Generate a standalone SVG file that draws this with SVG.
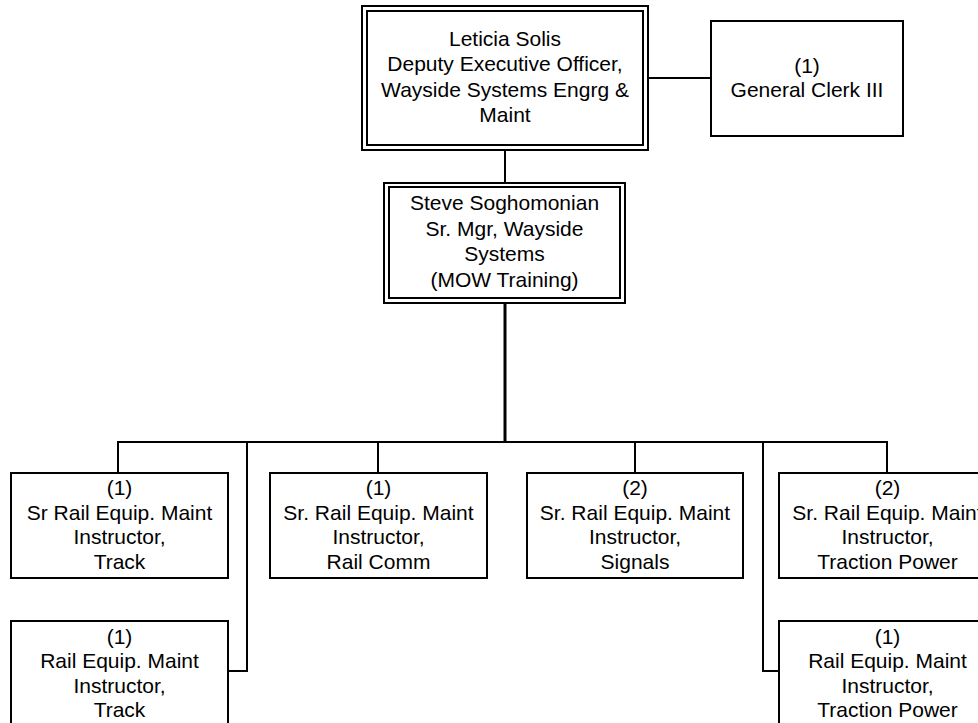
<svg xmlns="http://www.w3.org/2000/svg" width="978" height="723" viewBox="0 0 978 723">
<style>
.b{fill:#fff;stroke:#000;stroke-width:2}
.c{fill:none;stroke:#000;stroke-width:2}
text{font-family:"Liberation Sans",Arial,sans-serif;font-size:21px;fill:#000;text-anchor:middle}
</style>
<rect width="978" height="723" fill="#fff"/>
<g id="connectors">
<path class="c" d="M505 150V183M648 78H711"/>
<path class="c" style="stroke-width:3" d="M505 303V442"/>
<path class="c" d="M118 473V442H887V473M378 442V473M635 442V473M247 442V671H228M763 442V671H779"/>
</g>
<g id="n-solis">
<rect class="b" x="362" y="6" width="286" height="144"/>
<rect class="b" x="367" y="11" width="276" height="134"/>
<text x="505" y="46">Leticia Solis</text>
<text x="505" y="71">Deputy Executive Officer,</text>
<text x="505" y="96.5">Wayside Systems Engrg &amp;</text>
<text x="505" y="122">Maint</text>
</g>
<g id="n-clerk">
<rect class="b" x="711" y="21" width="192" height="115"/>
<text x="807" y="73">(1)</text>
<text x="807" y="97">General Clerk III</text>
</g>
<g id="n-soghomonian">
<rect class="b" x="384" y="183" width="241" height="120"/>
<rect class="b" x="389" y="187" width="231" height="111"/>
<text x="504.5" y="210">Steve Soghomonian</text>
<text x="504.5" y="235.5">Sr. Mgr, Wayside</text>
<text x="504.5" y="261">Systems</text>
<text x="504.5" y="286.5">(MOW Training)</text>
</g>
<g id="n-track-sr">
<rect class="b" x="11" y="473" width="217" height="105"/>
<text x="119.5" y="495">(1)</text>
<text x="119.5" y="519.5">Sr Rail Equip. Maint</text>
<text x="119.5" y="544">Instructor,</text>
<text x="119.5" y="568.5">Track</text>
</g>
<g id="n-comm">
<rect class="b" x="270" y="473" width="217" height="105"/>
<text x="378.5" y="495">(1)</text>
<text x="378.5" y="519.5">Sr. Rail Equip. Maint</text>
<text x="378.5" y="544">Instructor,</text>
<text x="378.5" y="568.5">Rail Comm</text>
</g>
<g id="n-signals">
<rect class="b" x="527" y="473" width="216" height="105"/>
<text x="635" y="495">(2)</text>
<text x="635" y="519.5">Sr. Rail Equip. Maint</text>
<text x="635" y="544">Instructor,</text>
<text x="635" y="568.5">Signals</text>
</g>
<g id="n-tp-sr">
<rect class="b" x="779" y="473" width="217" height="105"/>
<text x="887.5" y="495">(2)</text>
<text x="887.5" y="519.5">Sr. Rail Equip. Maint</text>
<text x="887.5" y="544">Instructor,</text>
<text x="887.5" y="568.5">Traction Power</text>
</g>
<g id="n-track">
<rect class="b" x="11" y="621" width="217" height="105"/>
<text x="119.5" y="643.5">(1)</text>
<text x="119.5" y="668">Rail Equip. Maint</text>
<text x="119.5" y="692.5">Instructor,</text>
<text x="119.5" y="717">Track</text>
</g>
<g id="n-tp">
<rect class="b" x="779" y="621" width="217" height="105"/>
<text x="887.5" y="643.5">(1)</text>
<text x="887.5" y="668">Rail Equip. Maint</text>
<text x="887.5" y="692.5">Instructor,</text>
<text x="887.5" y="717">Traction Power</text>
</g>
</svg>
